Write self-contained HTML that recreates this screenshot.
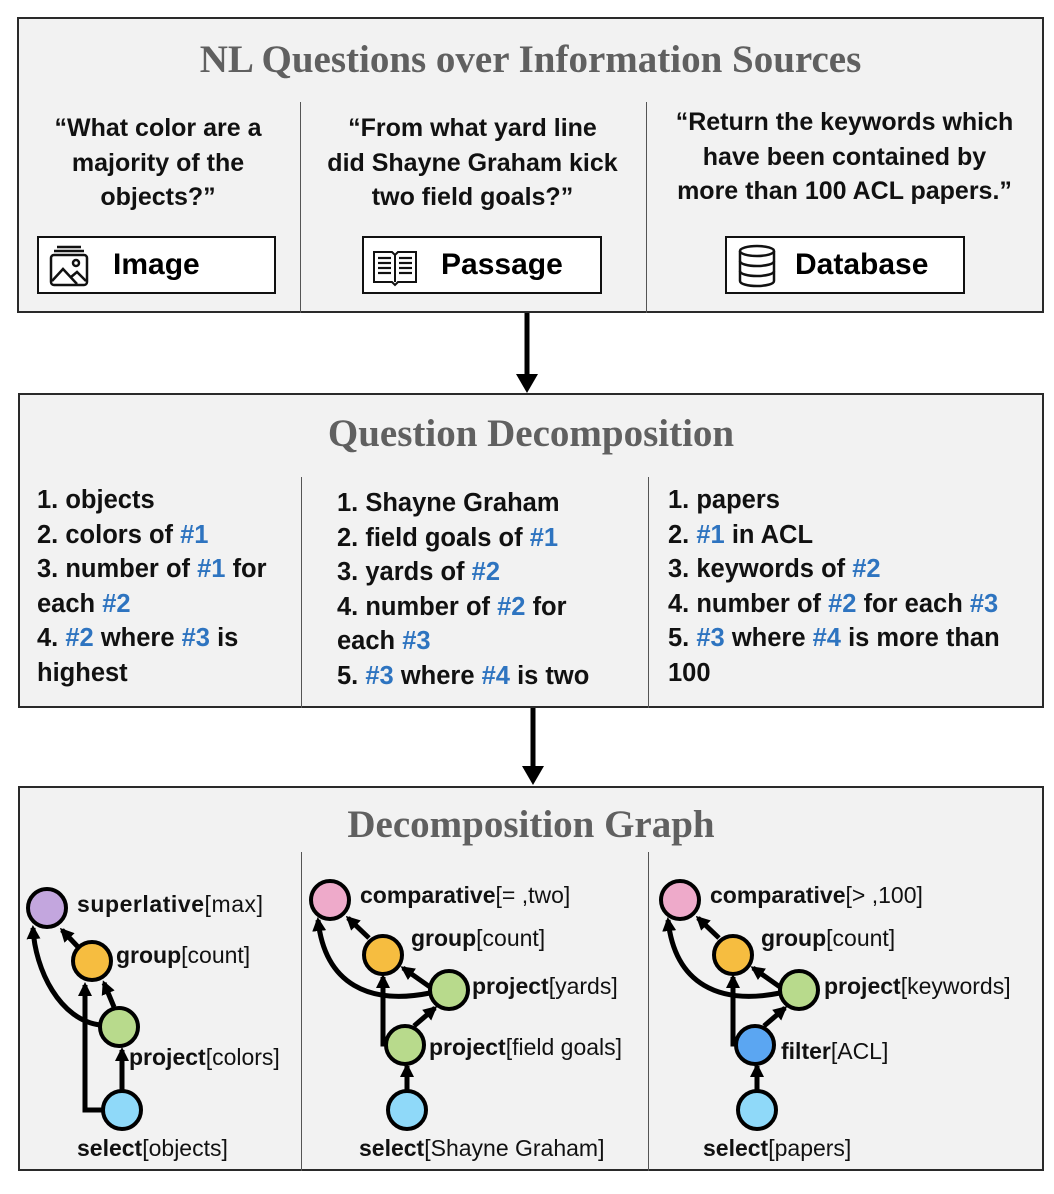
<!DOCTYPE html>
<html><head><meta charset="utf-8"><style>
body{margin:0;width:1054px;height:1194px;background:#fff;position:relative;font-family:"Liberation Sans",sans-serif;overflow:hidden}
.box{position:absolute;background:#f2f2f2;border:2px solid #2a2a2a;box-sizing:border-box}
.title{position:absolute;left:0;right:0;text-align:center;font-family:"Liberation Serif",serif;font-weight:bold;color:#606060;font-size:39px}
.div{position:absolute;width:1px;background:#555}
.t{position:absolute;font-weight:bold;font-size:25.5px;line-height:34.5px;color:#111;white-space:nowrap}
.q{font-size:25px}
.c{text-align:center}
.b{color:#2e74c0}
.src{position:absolute;border:2px solid #111;background:#fff;box-sizing:border-box;height:58px;font-weight:bold;font-size:30px;line-height:54px}
</style></head><body>
<div class="box" style="left:17px;top:17px;width:1027px;height:296px">
 <div class="title" style="top:18px">NL Questions over Information Sources</div>
 <div class="div" style="left:281px;top:83px;height:211px"></div>
 <div class="div" style="left:627px;top:83px;height:211px"></div>
</div>
<div class="t c q" style="left:20px;width:276px;top:111px">“What color are a<br>majority of the<br>objects?”</div>
<div class="t c q" style="left:300px;width:345px;top:111px">“From what yard line<br>did Shayne Graham kick<br>two field goals?”</div>
<div class="t c q" style="left:648px;width:393px;top:105px">“Return the keywords which<br>have been contained by<br>more than 100 ACL papers.”</div>
<div class="src" style="left:37px;top:236px;width:239px"><span style="position:absolute;left:74px">Image</span>
<svg style="position:absolute;left:8px;top:6px" width="44" height="44" viewBox="0 0 44 44" fill="none" stroke="#111" stroke-width="2.5"><line x1="10" y1="3" x2="34" y2="3"/><line x1="7" y1="7" x2="37" y2="7"/><rect x="4" y="11" width="36" height="30" rx="3"/><circle cx="29" cy="19" r="3"/><polyline points="5,37 16,25 30,40"/><polyline points="24,33 30,28 39,37"/></svg></div>
<div class="src" style="left:362px;top:236px;width:240px"><span style="position:absolute;left:77px">Passage</span>
<svg style="position:absolute;left:6px;top:6px" width="50" height="44" viewBox="0 0 50 44" fill="none" stroke="#111" stroke-width="2"><path d="M4 8h18l3 3 3-3h18v30H28l-3 3-3-3H4z"/><line x1="25" y1="11" x2="25" y2="38"/><g stroke-width="2.2"><line x1="8" y1="14" x2="21" y2="14"/><line x1="8" y1="19" x2="21" y2="19"/><line x1="8" y1="24" x2="21" y2="24"/><line x1="8" y1="29" x2="21" y2="29"/><line x1="29" y1="14" x2="42" y2="14"/><line x1="29" y1="19" x2="42" y2="19"/><line x1="29" y1="24" x2="42" y2="24"/><line x1="29" y1="29" x2="42" y2="29"/></g></svg></div>
<div class="src" style="left:725px;top:236px;width:240px"><span style="position:absolute;left:68px">Database</span>
<svg style="position:absolute;left:8px;top:5px" width="44" height="46" viewBox="0 0 44 46" fill="none" stroke="#111" stroke-width="2.5"><ellipse cx="22" cy="8" rx="17" ry="5"/><path d="M5 8v30c0 3 8 5 17 5s17-2 17-5V8"/><path d="M5 18c0 3 8 5 17 5s17-2 17-5"/><path d="M5 28c0 3 8 5 17 5s17-2 17-5"/></svg></div>

<svg style="position:absolute;left:0;top:0" width="1054" height="1194">
<line x1="527" y1="313" x2="527" y2="380" stroke="#000" stroke-width="5"/><path d="M516,374L538,374L527,393z"/>
<line x1="533" y1="707" x2="533" y2="772" stroke="#000" stroke-width="5"/><path d="M522,766L544,766L533,785z"/>
</svg>

<div class="box" style="left:18px;top:393px;width:1026px;height:315px">
 <div class="title" style="top:16px">Question Decomposition</div>
 <div class="div" style="left:281px;top:82px;height:231px"></div>
 <div class="div" style="left:628px;top:82px;height:231px"></div>
</div>
<div class="t" style="left:37px;top:483px">1. objects<br>2. colors of <span class="b">#1</span><br>3. number of <span class="b">#1</span> for<br>each <span class="b">#2</span><br>4. <span class="b">#2</span> where <span class="b">#3</span> is<br>highest</div>
<div class="t" style="left:337px;top:486px">1. Shayne Graham<br>2. field goals of <span class="b">#1</span><br>3. yards of <span class="b">#2</span><br>4. number of <span class="b">#2</span> for<br>each <span class="b">#3</span><br>5. <span class="b">#3</span> where <span class="b">#4</span> is two</div>
<div class="t" style="left:668px;top:483px">1. papers<br>2. <span class="b">#1</span> in ACL<br>3. keywords of <span class="b">#2</span><br>4. number of <span class="b">#2</span> for each <span class="b">#3</span><br>5. <span class="b">#3</span> where <span class="b">#4</span> is more than<br>100</div>

<div class="box" style="left:18px;top:786px;width:1026px;height:385px">
 <div class="title" style="top:14px">Decomposition Graph</div>
 <div class="div" style="left:281px;top:64px;height:319px"></div>
 <div class="div" style="left:628px;top:64px;height:319px"></div>
</div>

<svg style="position:absolute;left:0;top:0" width="1054" height="1194" font-family="Liberation Sans, sans-serif" font-size="23">
<defs><marker id="ah" markerWidth="14" markerHeight="14" refX="11" refY="7" orient="auto" markerUnits="userSpaceOnUse"><path d="M0,0L14,7L0,14z" fill="#000"/></marker></defs>
<g fill="none" stroke="#000" stroke-width="5" marker-end="url(#ah)">
 <path d="M79,948 L62,930"/>
 <path d="M114,1007 L104,983"/>
 <path d="M122,1090 L122,1050"/>
 <path d="M102,1110 L85,1110 L85,985"/>
 <path d="M100,1025 C60,1020 35,970 33,928"/>
 <path d="M369,938 L348,918"/>
 <path d="M430,987 L403,968"/>
 <path d="M414,1026 L435,1008"/>
 <path d="M407,1090 L407,1066"/>
 <path d="M390,1044 L383,1044 L383,977"/>
 <path d="M430,993 C370,1005 325,985 318,920"/>
 <path d="M719,938 L698,918"/>
 <path d="M780,987 L753,968"/>
 <path d="M764,1026 L785,1008"/>
 <path d="M757,1090 L757,1066"/>
 <path d="M740,1044 L733,1044 L733,977"/>
 <path d="M780,993 C720,1005 675,985 668,920"/>
</g>
<g stroke="#000" stroke-width="4">
 <circle cx="47" cy="908" r="19" fill="#c3a6de"/>
 <circle cx="92" cy="961" r="19" fill="#f6bd40"/>
 <circle cx="119" cy="1027" r="19" fill="#b8da8c"/>
 <circle cx="122" cy="1110" r="19" fill="#8fd9f9"/>
 <circle cx="330" cy="900" r="19" fill="#eeaaca"/>
 <circle cx="383" cy="955" r="19" fill="#f6bd40"/>
 <circle cx="449" cy="990" r="19" fill="#b8da8c"/>
 <circle cx="405" cy="1045" r="19" fill="#b8da8c"/>
 <circle cx="407" cy="1110" r="19" fill="#8fd9f9"/>
 <circle cx="680" cy="900" r="19" fill="#eeaaca"/>
 <circle cx="733" cy="955" r="19" fill="#f6bd40"/>
 <circle cx="799" cy="990" r="19" fill="#b8da8c"/>
 <circle cx="755" cy="1045" r="19" fill="#5ba6f2"/>
 <circle cx="757" cy="1110" r="19" fill="#8fd9f9"/>
</g>
<g fill="#111">
 <text x="77" y="912" textLength="186"><tspan font-weight="bold">superlative</tspan>[max]</text>
 <text x="116" y="963"><tspan font-weight="bold">group</tspan>[count]</text>
 <text x="129" y="1065"><tspan font-weight="bold">project</tspan>[colors]</text>
 <text x="77" y="1156"><tspan font-weight="bold">select</tspan>[objects]</text>
 <text x="360" y="903"><tspan font-weight="bold">comparative</tspan>[= ,two]</text>
 <text x="411" y="946"><tspan font-weight="bold">group</tspan>[count]</text>
 <text x="472" y="994"><tspan font-weight="bold">project</tspan>[yards]</text>
 <text x="429" y="1055"><tspan font-weight="bold">project</tspan>[field goals]</text>
 <text x="359" y="1156"><tspan font-weight="bold">select</tspan>[Shayne Graham]</text>
 <text x="710" y="903"><tspan font-weight="bold">comparative</tspan>[&gt; ,100]</text>
 <text x="761" y="946"><tspan font-weight="bold">group</tspan>[count]</text>
 <text x="824" y="994"><tspan font-weight="bold">project</tspan>[keywords]</text>
 <text x="781" y="1059"><tspan font-weight="bold">filter</tspan>[ACL]</text>
 <text x="703" y="1156"><tspan font-weight="bold">select</tspan>[papers]</text>
</g>
</svg>
</body></html>
